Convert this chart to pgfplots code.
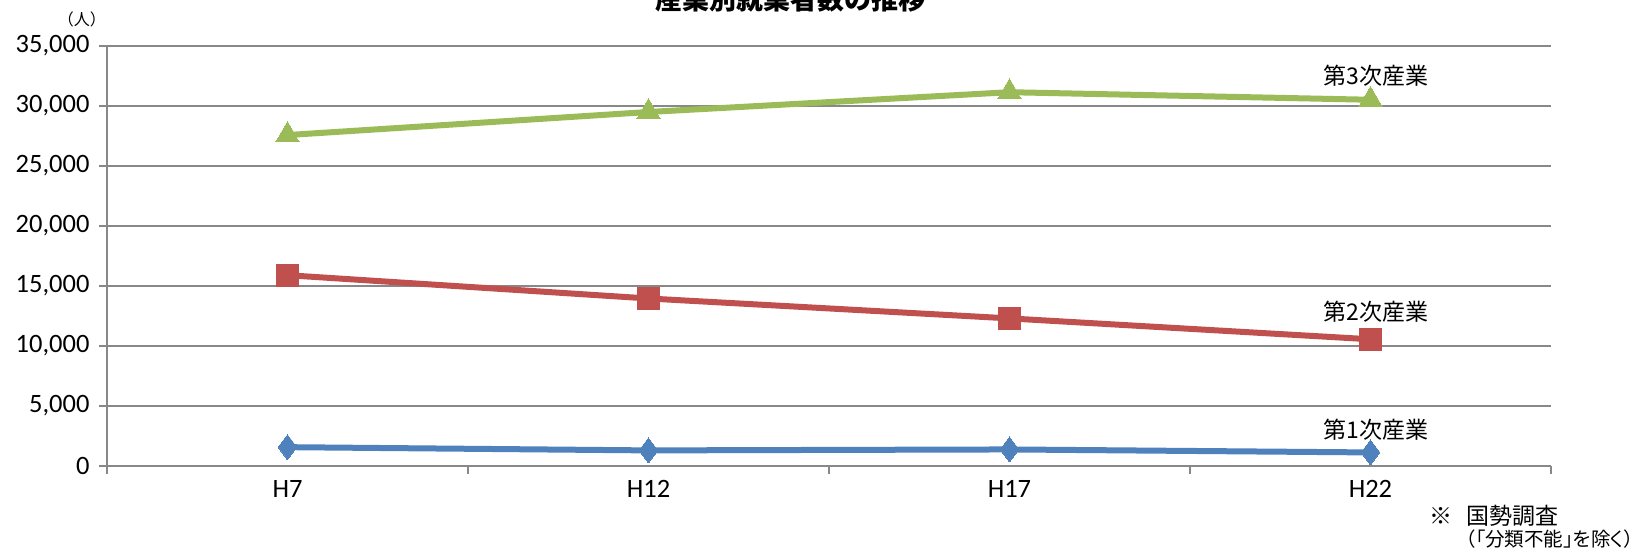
\documentclass[border=0pt]{standalone}
\usepackage{fontspec}
\setmainfont{Carlito}
\newfontfamily\jp{Noto Sans CJK JP}
\newfontfamily\jpp[RawFeature=+palt]{Noto Sans CJK JP}
\usepackage{pgfplots}
\pgfplotsset{compat=1.18}
\definecolor{gridgray}{HTML}{888888}
\definecolor{c1}{HTML}{4F81BD}
\definecolor{c2}{HTML}{C0504D}
\definecolor{c3}{HTML}{9BBB59}
\begin{document}
\begin{tikzpicture}[x=1pt,y=1pt]
  \begin{axis}[
      at={(0,0)}, anchor=south west,
      width=1444pt, height=420pt, scale only axis,
      xmin=0.5, xmax=4.5, ymin=0, ymax=35000,
      axis x line=bottom, axis y line=left,
      axis line style={-, gridgray, line width=2pt},
      xtick={0.5,1.5,2.5,3.5,4.5},
      xticklabels={},
      extra x ticks={1,2,3,4},
      extra x tick labels={H7,H12,H17,H22},
      extra x tick style={major tick length=0pt, grid=none},
      ytick={0,5000,...,35000},
      ymajorgrids=true,
      grid style={gridgray, line width=2pt},
      tick align=outside,
      major tick length=8pt,
      tick style={gridgray, line width=2pt},
      scaled y ticks=false,
      /pgf/number format/.cd, fixed, precision=0, 1000 sep={,}, assume math mode=true,
      /pgfplots/.cd,
      ticklabel style={font=\fontsize{26.5}{30}\selectfont, black},
      xticklabel style={yshift=-11pt},
      yticklabel style={xshift=-6pt},
      clip=false,
    ]
    \addplot[c1, line width=6pt, mark=diamond*, mark size=12.5pt,
      mark options={fill=c1, draw=c1, line width=0pt}]
      coordinates {(1,1570) (2,1300) (3,1380) (4,1130)};
    \addplot[c2, line width=6pt, mark=square*, mark size=11pt,
      mark options={fill=c2, draw=c2, line width=0pt}]
      coordinates {(1,15900) (2,13960) (3,12300) (4,10560)};
    \addplot[c3, line width=6pt, mark=triangle*, mark size=13.5pt,
      mark options={fill=c3, draw=c3, line width=0pt}]
      coordinates {(1,27580) (2,29500) (3,31150) (4,30520)};
    \node[font=\jp\fontsize{23}{27}\selectfont] at (axis cs:4.015,32500) {第3次産業};
    \node[font=\jp\fontsize{23}{27}\selectfont] at (axis cs:4.015,12850) {第2次産業};
    \node[font=\jp\fontsize{23}{27}\selectfont] at (axis cs:4.015,3050) {第1次産業};
  \end{axis}
  \node[font=\jp\fontsize{16}{20}\selectfont] at (-25,447) {（人）};
  \node[font=\jp\bfseries\fontsize{27}{32}\selectfont] at (683,467) {産業別就業者数の推移};
  \node[font=\jp\fontsize{23}{28}\selectfont, anchor=west, inner sep=0pt] at (1322,-50) {※\hspace{0.6em}国勢調査};
  \node[font=\jpp\fontsize{19.5}{22}\selectfont, anchor=east, inner sep=0pt] at (1527,-73) {（「分類不能」を除く）};
  \pgfresetboundingbox
  \useasboundingbox (-107,-84) rectangle (1534,466);
\end{tikzpicture}
\end{document}
